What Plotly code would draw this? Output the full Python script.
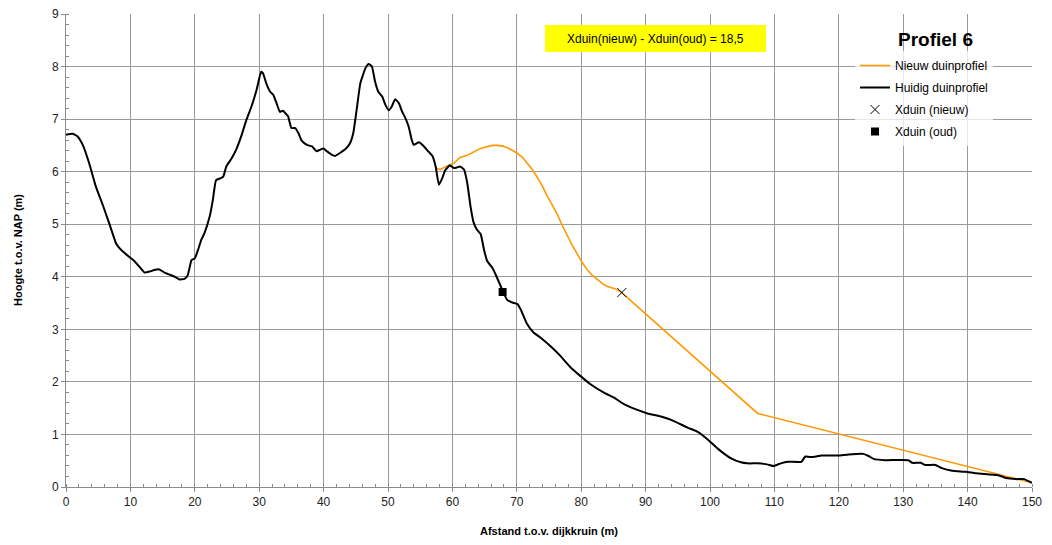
import plotly.graph_objects as go

# Huidig duinprofiel (current dune profile)
huidig_x = [0.0, 1.0, 1.8, 2.6, 3.6, 4.65, 5.7, 6.7, 7.8, 8.5, 9.8, 10.6, 11.4, 12.2, 13.0, 13.7, 14.5,
            15.3, 16.1, 16.9, 17.6, 18.4, 18.9, 19.5, 20.0, 20.5, 21.0, 21.5, 22.3, 22.8, 23.3, 23.9, 24.4,
            24.9, 25.7, 26.5, 27.2, 28.0, 28.8, 29.6, 30.3, 30.6, 31.1, 31.7, 32.2, 32.7, 33.2, 33.7, 34.3,
            34.5, 35.0, 35.6, 36.1, 36.6, 37.4, 38.2, 38.9, 39.5, 40.0, 40.5, 41.3, 41.8, 42.6, 43.4, 44.1,
            44.6, 45.2, 45.7, 46.5, 47.0, 47.5, 48.0, 48.5, 49.1, 49.6, 50.1, 50.6, 51.1, 51.7, 52.2, 52.7,
            53.2, 53.7, 54.0, 54.8, 55.6, 56.3, 56.9, 57.4, 57.9, 58.4, 58.9, 59.6, 60.2, 60.7, 61.2, 61.8,
            62.3, 62.8, 63.3, 63.8, 64.4, 64.9, 65.4, 66.2, 66.8, 67.5, 67.9, 68.5, 69.3, 70.1, 70.6, 71.6,
            72.6, 73.7, 75.5, 76.8, 78.4, 79.9, 81.5, 83.6, 85.1, 86.7, 88.2, 90.3, 92.4, 94.5, 96.5, 98.1,
            99.6, 101.2, 103.2, 104.8, 105.8, 107.4, 108.4, 109.2, 109.9, 111.0, 112.1, 114.2, 114.8, 115.5,
            116.5, 117.3, 119.9, 121.5, 123.8, 124.6, 125.5, 127.2, 130.8, 131.4, 132.7, 133.4, 135.0, 136.0,
            137.6, 139.7, 141.3, 143.3, 144.9, 146.0, 147.5, 148.8, 149.3, 150.0]
huidig_y = [6.70, 6.72, 6.67, 6.51, 6.16, 5.71, 5.37, 5.02, 4.63, 4.52, 4.38, 4.30, 4.19, 4.08, 4.10, 4.13, 4.14,
            4.08, 4.04, 4.00, 3.95, 3.96, 4.03, 4.32, 4.35, 4.51, 4.70, 4.83, 5.14, 5.46, 5.84, 5.87, 5.90,
            6.10, 6.25, 6.44, 6.67, 6.98, 7.24, 7.56, 7.90, 7.87, 7.68, 7.52, 7.46, 7.30, 7.14, 7.16, 7.08,
            7.05, 6.83, 6.83, 6.73, 6.59, 6.51, 6.48, 6.39, 6.42, 6.44, 6.39, 6.32, 6.30, 6.36, 6.43, 6.54,
            6.73, 7.24, 7.68, 7.97, 8.05, 8.00, 7.71, 7.52, 7.43, 7.27, 7.17, 7.24, 7.38, 7.30, 7.14, 7.02,
            6.86, 6.60, 6.51, 6.56, 6.48, 6.38, 6.30, 6.10, 5.75, 5.87, 6.03, 6.12, 6.07, 6.08, 6.10, 6.04,
            5.79, 5.35, 5.03, 4.90, 4.81, 4.52, 4.30, 4.17, 4.02, 3.82, 3.71, 3.56, 3.51, 3.48, 3.38, 3.10,
            2.94, 2.84, 2.65, 2.49, 2.27, 2.11, 1.95, 1.79, 1.70, 1.57, 1.49, 1.40, 1.34, 1.25, 1.13, 1.05,
            0.91, 0.73, 0.55, 0.47, 0.45, 0.45, 0.44, 0.42, 0.40, 0.45, 0.48, 0.48, 0.58, 0.57,
            0.58, 0.60, 0.60, 0.62, 0.63, 0.59, 0.53, 0.51, 0.51, 0.46, 0.46, 0.42, 0.42, 0.36,
            0.31, 0.29, 0.26, 0.24, 0.22, 0.17, 0.15, 0.15, 0.12, 0.08]

# Nieuw duinprofiel (new dune profile)
nieuw_x = [57.5, 58.1, 59.2, 60.2, 61.2, 62.3, 63.1, 63.8, 64.6, 65.4, 66.2, 66.9, 67.7, 68.5, 69.3, 70.1,
           70.9, 71.6, 72.4, 73.2, 74.0, 74.7, 75.5, 76.3, 77.0, 77.8, 78.6, 79.4, 80.1, 80.9, 81.7, 82.5,
           83.3, 84.0, 84.7, 85.3, 86.3, 107.4, 150.0]
nieuw_y = [6.06, 6.04, 6.11, 6.16, 6.27, 6.31, 6.36, 6.41, 6.45, 6.48, 6.50, 6.50, 6.49, 6.46, 6.41, 6.35,
           6.27, 6.16, 6.04, 5.89, 5.72, 5.54, 5.37, 5.19, 4.99, 4.78, 4.60, 4.43, 4.28, 4.14, 4.03, 3.95,
           3.87, 3.82, 3.79, 3.77, 3.70, 1.40, 0.08]

# Xduin points
xduin_nieuw_x = [86.3]
xduin_nieuw_y = [3.70]
xduin_oud_x = [67.8]
xduin_oud_y = [3.71]

x_ticks = list(range(0, 151, 10))
y_ticks = list(range(0, 10, 1))

FONT = "Liberation Sans, Arial, sans-serif"

FIG_W, FIG_H = 1052, 545
# plot area in page pixels
PX0, PX1, PY0, PY1 = 66, 1032, 14, 487
L, T = PX0, PY0
R = FIG_W - PX1
B = FIG_H - PY1


def px(xp):
    return (xp - PX0) / (PX1 - PX0)


def py(yp):
    return (PY1 - yp) / (PY1 - PY0)


fig = go.Figure()
fig.add_trace(go.Scatter(x=nieuw_x, y=nieuw_y, mode="lines", name="Nieuw duinprofiel",
                         line=dict(color="#FF9900", width=1.6, shape="linear"),
                         legendgroup="a"))
fig.add_trace(go.Scatter(x=huidig_x, y=huidig_y, mode="lines", name="Huidig duinprofiel",
                         line=dict(color="#000000", width=2, shape="spline", smoothing=0.4),
                         legendgroup="b"))
fig.add_trace(go.Scatter(x=xduin_nieuw_x, y=xduin_nieuw_y, mode="markers", name="Xduin (nieuw)",
                         marker=dict(symbol="x-thin", size=9, color="#000000",
                                     line=dict(color="#000000", width=1)),
                         legendgroup="c"))
fig.add_trace(go.Scatter(x=xduin_oud_x, y=xduin_oud_y, mode="markers", name="Xduin (oud)",
                         marker=dict(symbol="square", size=8, color="#000000"),
                         legendgroup="d"))

axis_common = dict(
    showgrid=True, gridcolor="#9a9a9a", gridwidth=1,
    showline=True, linecolor="#8c8c8c", linewidth=1,
    ticks="outside", ticklen=4, tickcolor="#8c8c8c",
    tickfont=dict(family=FONT, size=12, color="#222222"),
    zeroline=False, automargin=False,
)

fig.update_xaxes(range=[0, 150], tickvals=x_ticks,
                 minor=dict(dtick=2, ticks="inside", ticklen=3, tickcolor="#8c8c8c", showgrid=False),
                 **axis_common)
fig.update_yaxes(range=[0, 9], tickvals=y_ticks,
                 minor=dict(dtick=0.2, ticks="inside", ticklen=3, tickcolor="#8c8c8c", showgrid=False),
                 **axis_common)

# axis titles
fig.add_annotation(xref="paper", yref="paper", x=px(549), y=py(531),
                   text="<b>Afstand t.o.v. dijkkruin (m)</b>", showarrow=False,
                   font=dict(family=FONT, size=11, color="#000000"),
                   xanchor="center", yanchor="middle")
fig.add_annotation(xref="paper", yref="paper", x=px(18), y=py(250),
                   text="<b>Hoogte t.o.v. NAP (m)</b>", showarrow=False, textangle=-90,
                   font=dict(family=FONT, size=11, color="#000000"),
                   xanchor="center", yanchor="middle")

fig.add_shape(type="rect", xref="paper", yref="paper",
              x0=px(545), x1=px(766), y0=py(52), y1=py(25),
              fillcolor="#FFFF00", line=dict(width=0), layer="above")
fig.add_annotation(xref="paper", yref="paper", x=px(655.5), y=py(38.5),
                   text="Xduin(nieuw) - Xduin(oud) = 18,5", showarrow=False,
                   font=dict(family=FONT, size=12, color="#000000"),
                   xanchor="center", yanchor="middle")
fig.add_annotation(xref="paper", yref="paper", x=px(896), y=py(40),
                   text="<b>Profiel 6</b>", showarrow=False,
                   font=dict(family=FONT, size=19, color="#000000"),
                   xanchor="left", yanchor="middle")

fig.update_layout(
    width=FIG_W, height=FIG_H,
    margin=dict(l=L, r=R, t=T, b=B),
    paper_bgcolor="white", plot_bgcolor="white",
    font=dict(family=FONT, size=12, color="#000000"),
    showlegend=True,
    legend=dict(x=px(855), y=py(51), xanchor="left", yanchor="top",
                bgcolor="rgba(255,255,255,0.75)", borderwidth=0,
                font=dict(family=FONT, size=12, color="#000000"),
                tracegroupgap=3, traceorder="grouped", itemwidth=30),
)

# remove the default page margin so the figure sits at the top-left corner
fig.write_html("out.html", config={"displayModeBar": False},
               post_script="document.body.style.margin='0px';")
